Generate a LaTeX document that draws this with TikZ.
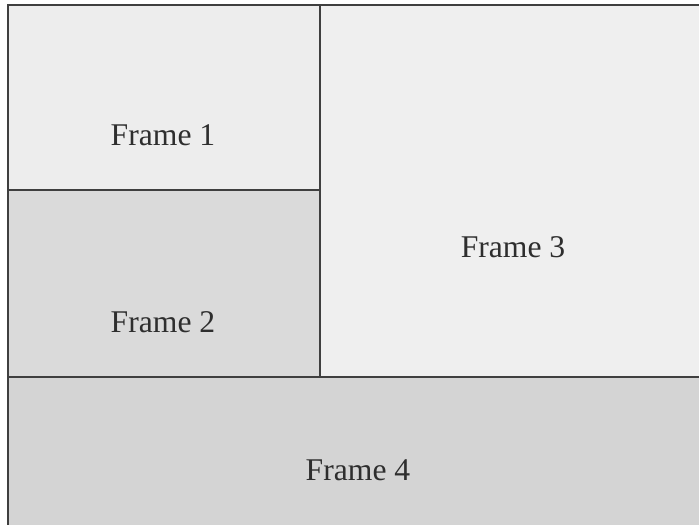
\documentclass[tikz,border=0pt]{standalone}
\usepackage{fontspec}
\setmainfont{Liberation Serif}
\usepackage{tikz}
\usetikzlibrary{positioning}

\definecolor{frameline}{HTML}{3F3F3F}
\definecolor{frametext}{HTML}{2E2E2E}
\definecolor{fillone}{HTML}{EDEDED}
\definecolor{filltwo}{HTML}{DADADA}
\definecolor{fillthree}{HTML}{EFEFEF}
\definecolor{fillfour}{HTML}{D4D4D4}

\begin{document}
\begin{tikzpicture}[x=0.02cm, y=-0.02cm,
    framebox/.style={draw=frameline, line width=1.1pt},
    framelabel/.style={font=\fontsize{18}{20}\selectfont, text=frametext}]
				\useasboundingbox (0,0) rectangle (699,524);
				\clip (0,0) rectangle (699,524);
				
				% Riquadri dei frame, tagliati a destra e in basso
				\draw[framebox, fill=fillthree] (320,5) rectangle (710,377);
				\draw[framebox, fill=fillone] (8,5) rectangle (320,190);
				\draw[framebox, fill=filltwo] (8,190) rectangle (320,377);
				\draw[framebox, fill=fillfour] (8,377) rectangle (710,535);
				
				% Etichette
				\node[framelabel] (frameone) at (163,135) {Frame 1};
				\node[framelabel] (frametwo) at (163,322) {Frame 2};
				\node[framelabel] (framethree) at (513,247) {Frame 3};
				\node[framelabel] (framefour) at (358,470) {Frame 4};
			\end{tikzpicture}
\end{document}
